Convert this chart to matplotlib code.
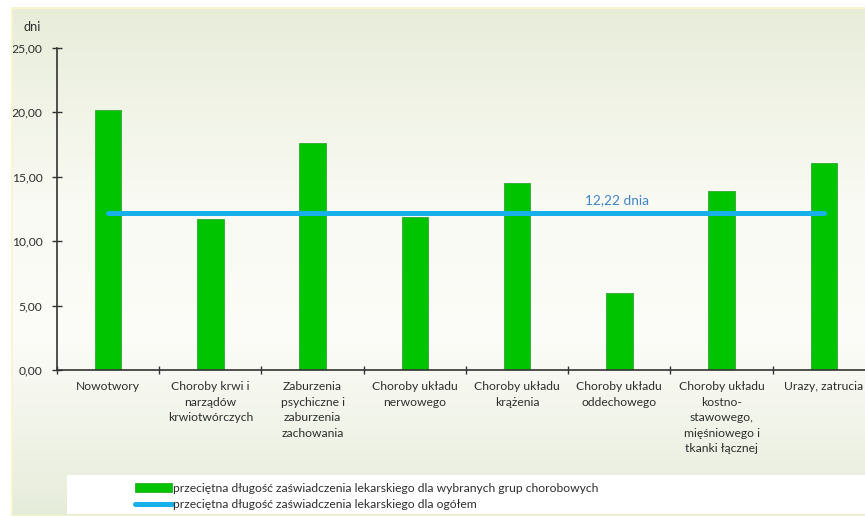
import numpy as np
import matplotlib.pyplot as plt
from matplotlib.patches import Patch, Rectangle
from matplotlib.lines import Line2D

plt.rcParams['font.family'] = ['Lato', 'DejaVu Sans']

# average sick-leave length per disease group (days)
categories = ["Nowotwory",
              "Choroby krwi i\nnarządów\nkrwiotwórczych",
              "Zaburzenia\npsychiczne i\nzaburzenia\nzachowania",
              "Choroby układu\nnerwowego",
              "Choroby układu\nkrążenia",
              "Choroby układu\noddechowego",
              "Choroby układu\nkostno-\nstawowego,\nmięśniowego i\ntkanki łącznej",
              "Urazy, zatrucia"]
values = [20.2, 11.7, 17.6, 11.9, 14.5, 6.0, 13.9, 16.1]
overall = 12.22
yticks = [0, 5, 10, 15, 20, 25]

bar_color = '#00c400'
line_color = '#18b0ea'
text_color = '#2e2e2e'
fs = 8.7

fig = plt.figure(figsize=(8.65, 5.16), dpi=100)
fig.patch.set_facecolor('white')

# background panel with soft vertical gradient
bg = fig.add_axes([12/865, 0, 1 - 12/865, 1 - 8/516])
stops_y = [0.0, 0.35, 0.62, 1.0]  # from bottom to top
stops_c = np.array([[230, 236, 218], [252, 252, 248], [249, 250, 243], [232, 237, 218]]) / 255
ys = np.linspace(0, 1, 256)
grad = np.stack([np.interp(ys, stops_y, stops_c[:, k]) for k in range(3)], axis=1)
bg.imshow(grad[:, None, :], aspect='auto', origin='lower', extent=[0, 1, 0, 1])
bg.set_axis_off()
fig.add_artist(Rectangle((12/865, 0), 1, 1 - 8/516, transform=fig.transFigure,
                         fill=False, edgecolor='#f8f6c8', lw=1.2))

ax = fig.add_axes([57/865, 146/516, 818/865, 322/516])
ax.set_facecolor('none')
x = np.arange(len(categories))
ax.bar(x, values, width=0.26, color=bar_color, edgecolor='#2fa82f', linewidth=0.6, zorder=2)
ax.plot([0, len(categories) - 1], [overall, overall], color=line_color, lw=3.6,
        solid_capstyle='round', zorder=3)
ax.text(4.98, overall + 0.5, f"{overall:.2f}".replace('.', ',') + " dnia",
        color='#3f86c8', fontsize=9.8, ha='center', va='bottom')

ax.set_xlim(-0.5, len(categories) - 0.5)
ax.set_ylim(0, 25)
ax.set_yticks(yticks)
ax.set_yticklabels([f"{v:.2f}".replace('.', ',') for v in yticks], color=text_color, fontsize=fs)
ax.set_xticks(x)
ax.set_xticklabels(categories, color=text_color, fontsize=fs, linespacing=1.5, va='top')
ax.set_xticks(np.arange(-0.5, len(categories)), minor=True)
ax.tick_params(axis='x', which='major', length=0, pad=8)
ax.tick_params(axis='x', which='minor', direction='inout', length=6, width=1, color='#333333')
ax.tick_params(axis='y', direction='inout', length=7, width=1, color='#333333', pad=7)
for s in ['top', 'right']:
    ax.spines[s].set_visible(False)
for s in ['left', 'bottom']:
    ax.spines[s].set_color('#333333')
    ax.spines[s].set_linewidth(1.2)

fig.text(24/865, 1 - 27/516, "dni", color=text_color, fontsize=9.2, va='center')

# legend box
fig.add_artist(Rectangle((67/865, 2/516), 1, 39/516, transform=fig.transFigure,
                         facecolor='white', edgecolor='none'))
handles = [Patch(facecolor=bar_color, edgecolor='#2fa82f', linewidth=0.6),
           Line2D([0], [0], color=line_color, lw=3.6, solid_capstyle='round')]
labels = ["przeciętna długość zaświadczenia lekarskiego dla wybranych grup chorobowych",
          "przeciętna długość zaświadczenia lekarskiego dla ogółem"]
fig.legend(handles, labels, loc='upper left', bbox_to_anchor=(125/865, 1 - 473/516),
           frameon=False, fontsize=fs, handlelength=3.1, handleheight=0.85,
           handletextpad=0.1, labelspacing=0.45, borderpad=0.3, labelcolor=text_color)

fig.savefig("out.png", dpi=100)
